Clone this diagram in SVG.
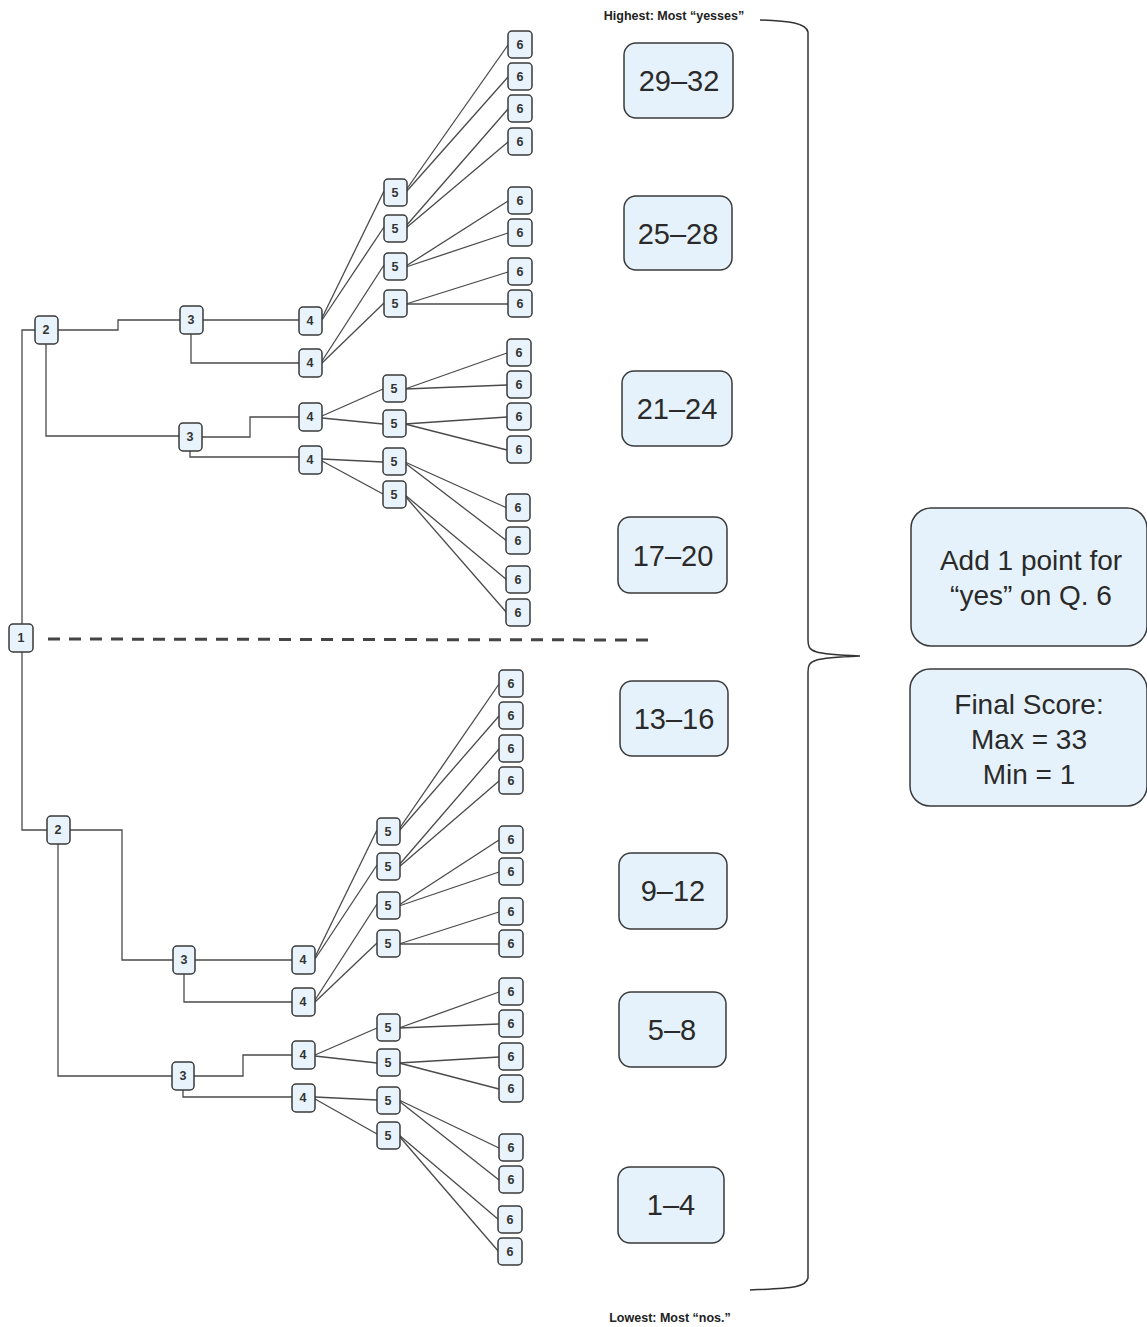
<svg xmlns="http://www.w3.org/2000/svg" width="1147" height="1327" viewBox="0 0 1147 1327">
<style>
.n rect{fill:#e8f3fb;stroke:#3a3a3a;stroke-width:1.5}
.n text{font-family:"Liberation Sans",Arial,sans-serif;font-size:12.5px;fill:#333;text-anchor:middle;font-weight:bold}
.r rect{fill:#e6f2fb;stroke:#3a3a3a;stroke-width:1.5}
.r text{font-family:"Liberation Sans",Arial,sans-serif;font-size:29px;fill:#2a2a2a;text-anchor:middle}
.b rect{fill:#e6f2fb;stroke:#3a3a3a;stroke-width:1.5}
.b text{font-family:"Liberation Sans",Arial,sans-serif;font-size:28px;fill:#2a2a2a;text-anchor:middle}
.c path,.c line{fill:none;stroke:#4a4a4a;stroke-width:1.3}
.lbl{font-family:"Liberation Sans",Arial,sans-serif;font-size:12.5px;font-weight:bold;fill:#222;text-anchor:middle}
</style>
<rect width="1147" height="1327" fill="#fff"/>
<g id="connectors" class="c">
<path d="M22,624 V330 H35"/>
<path d="M22,652 V830 H47"/>
<path d="M58,330 H118 V320 H180"/>
<path d="M203,320 H299"/>
<path d="M191,334 V363 H299"/>
<path d="M46,344 V436 H179"/>
<path d="M202,437 H250 V417 H299"/>
<path d="M190,451 V457 H299"/>
<line x1="322" y1="318" x2="384" y2="191"/>
<line x1="322" y1="320" x2="384" y2="227"/>
<line x1="322" y1="361" x2="384" y2="265"/>
<line x1="322" y1="363" x2="384" y2="303"/>
<line x1="322" y1="416" x2="383" y2="389"/>
<line x1="322" y1="418" x2="383" y2="424"/>
<line x1="322" y1="459" x2="383" y2="462"/>
<line x1="322" y1="461" x2="383" y2="494"/>
<line x1="406" y1="190" x2="508" y2="45"/>
<line x1="406" y1="192" x2="508" y2="77"/>
<line x1="406" y1="226" x2="508" y2="109"/>
<line x1="406" y1="228" x2="508" y2="142"/>
<line x1="406" y1="266" x2="508" y2="201"/>
<line x1="406" y1="267" x2="508" y2="233"/>
<line x1="406" y1="304" x2="508" y2="272"/>
<line x1="406" y1="304" x2="508" y2="304"/>
<line x1="405" y1="389" x2="507" y2="353"/>
<line x1="405" y1="389" x2="507" y2="385"/>
<line x1="405" y1="424" x2="507" y2="417"/>
<line x1="405" y1="424" x2="507" y2="450"/>
<line x1="405" y1="462" x2="507" y2="508"/>
<line x1="405" y1="463" x2="507" y2="541"/>
<line x1="405" y1="495" x2="507" y2="580"/>
<line x1="405" y1="496" x2="507" y2="613"/>
<path d="M70,830 H122 V960 H173"/>
<path d="M195,960 H292"/>
<path d="M184,974 V1002 H292"/>
<path d="M58,844 V1076 H173"/>
<path d="M194,1076 H243 V1055 H292"/>
<path d="M183,1090 V1097 H292"/>
<line x1="315" y1="957" x2="377" y2="830"/>
<line x1="315" y1="959" x2="377" y2="865"/>
<line x1="315" y1="1000" x2="377" y2="904"/>
<line x1="315" y1="1002" x2="377" y2="943"/>
<line x1="315" y1="1055" x2="377" y2="1028"/>
<line x1="315" y1="1056" x2="377" y2="1063"/>
<line x1="315" y1="1097" x2="377" y2="1100"/>
<line x1="315" y1="1099" x2="377" y2="1134"/>
<line x1="399" y1="829" x2="499" y2="684"/>
<line x1="399" y1="831" x2="499" y2="716"/>
<line x1="399" y1="865" x2="499" y2="749"/>
<line x1="399" y1="867" x2="499" y2="781"/>
<line x1="399" y1="905" x2="499" y2="840"/>
<line x1="399" y1="906" x2="499" y2="872"/>
<line x1="399" y1="944" x2="499" y2="912"/>
<line x1="399" y1="944" x2="499" y2="944"/>
<line x1="399" y1="1028" x2="499" y2="992"/>
<line x1="399" y1="1028" x2="499" y2="1024"/>
<line x1="399" y1="1063" x2="499" y2="1057"/>
<line x1="399" y1="1063" x2="499" y2="1089"/>
<line x1="399" y1="1100" x2="499" y2="1148"/>
<line x1="399" y1="1101" x2="499" y2="1180"/>
<line x1="399" y1="1135" x2="499" y2="1220"/>
<line x1="399" y1="1136" x2="499" y2="1252"/>
<line x1="48" y1="639" x2="652" y2="640" style="stroke:#444;stroke-width:3;stroke-dasharray:12 9"/>
<path d="M760,20 C790,21 806,23 808,32 V640 C808,652 812,654 860,656 C812,658 808,660 808,672 V1278 C806,1288 790,1288 750,1290" style="stroke:#333;stroke-width:1.5"/>
</g>
<g id="n1" class="n"><rect x="9" y="624" width="24" height="28" rx="4"/><text x="21" y="642">1</text></g>
<g id="n2a" class="n"><rect x="35" y="316" width="23" height="28" rx="4"/><text x="46" y="334">2</text></g>
<g id="n3a" class="n"><rect x="180" y="306" width="23" height="28" rx="4"/><text x="191" y="324">3</text></g>
<g id="n3b" class="n"><rect x="179" y="423" width="23" height="28" rx="4"/><text x="190" y="441">3</text></g>
<g id="n4a" class="n"><rect x="299" y="307" width="23" height="28" rx="4"/><text x="310" y="325">4</text></g>
<g id="n4b" class="n"><rect x="299" y="349" width="23" height="28" rx="4"/><text x="310" y="367">4</text></g>
<g id="n4c" class="n"><rect x="299" y="403" width="23" height="28" rx="4"/><text x="310" y="421">4</text></g>
<g id="n4d" class="n"><rect x="299" y="446" width="23" height="28" rx="4"/><text x="310" y="464">4</text></g>
<g id="n5a" class="n"><rect x="384" y="179" width="23" height="27" rx="4"/><text x="395" y="197">5</text></g>
<g id="n5b" class="n"><rect x="384" y="215" width="23" height="27" rx="4"/><text x="395" y="233">5</text></g>
<g id="n5c" class="n"><rect x="384" y="253" width="23" height="27" rx="4"/><text x="395" y="271">5</text></g>
<g id="n5d" class="n"><rect x="384" y="290" width="23" height="27" rx="4"/><text x="395" y="308">5</text></g>
<g id="n5e" class="n"><rect x="383" y="375" width="23" height="27" rx="4"/><text x="394" y="393">5</text></g>
<g id="n5f" class="n"><rect x="383" y="410" width="23" height="27" rx="4"/><text x="394" y="428">5</text></g>
<g id="n5g" class="n"><rect x="383" y="448" width="23" height="27" rx="4"/><text x="394" y="466">5</text></g>
<g id="n5h" class="n"><rect x="383" y="481" width="23" height="27" rx="4"/><text x="394" y="499">5</text></g>
<g id="n6a" class="n"><rect x="508" y="31" width="24" height="27" rx="4"/><text x="520" y="49">6</text></g>
<g id="n6b" class="n"><rect x="508" y="63" width="24" height="27" rx="4"/><text x="520" y="81">6</text></g>
<g id="n6c" class="n"><rect x="508" y="95" width="24" height="27" rx="4"/><text x="520" y="113">6</text></g>
<g id="n6d" class="n"><rect x="508" y="128" width="24" height="27" rx="4"/><text x="520" y="146">6</text></g>
<g id="n6e" class="n"><rect x="508" y="187" width="24" height="27" rx="4"/><text x="520" y="205">6</text></g>
<g id="n6f" class="n"><rect x="508" y="219" width="24" height="27" rx="4"/><text x="520" y="237">6</text></g>
<g id="n6g" class="n"><rect x="508" y="258" width="24" height="27" rx="4"/><text x="520" y="276">6</text></g>
<g id="n6h" class="n"><rect x="508" y="290" width="24" height="27" rx="4"/><text x="520" y="308">6</text></g>
<g id="n6i" class="n"><rect x="507" y="339" width="24" height="27" rx="4"/><text x="519" y="357">6</text></g>
<g id="n6j" class="n"><rect x="507" y="371" width="24" height="27" rx="4"/><text x="519" y="389">6</text></g>
<g id="n6k" class="n"><rect x="507" y="403" width="24" height="27" rx="4"/><text x="519" y="421">6</text></g>
<g id="n6l" class="n"><rect x="507" y="436" width="24" height="27" rx="4"/><text x="519" y="454">6</text></g>
<g id="n6m" class="n"><rect x="506" y="494" width="24" height="27" rx="4"/><text x="518" y="512">6</text></g>
<g id="n6n" class="n"><rect x="506" y="527" width="24" height="27" rx="4"/><text x="518" y="545">6</text></g>
<g id="n6o" class="n"><rect x="506" y="566" width="24" height="27" rx="4"/><text x="518" y="584">6</text></g>
<g id="n6p" class="n"><rect x="506" y="599" width="24" height="27" rx="4"/><text x="518" y="617">6</text></g>
<g id="n2b" class="n"><rect x="47" y="816" width="23" height="28" rx="4"/><text x="58" y="834">2</text></g>
<g id="n3c" class="n"><rect x="173" y="946" width="22" height="28" rx="4"/><text x="184" y="964">3</text></g>
<g id="n3d" class="n"><rect x="172" y="1062" width="22" height="28" rx="4"/><text x="183" y="1080">3</text></g>
<g id="n4e" class="n"><rect x="292" y="946" width="23" height="28" rx="4"/><text x="303" y="964">4</text></g>
<g id="n4f" class="n"><rect x="292" y="988" width="23" height="28" rx="4"/><text x="303" y="1006">4</text></g>
<g id="n4g" class="n"><rect x="292" y="1041" width="23" height="28" rx="4"/><text x="303" y="1059">4</text></g>
<g id="n4h" class="n"><rect x="292" y="1084" width="23" height="28" rx="4"/><text x="303" y="1102">4</text></g>
<g id="n5i" class="n"><rect x="377" y="818" width="23" height="27" rx="4"/><text x="388" y="836">5</text></g>
<g id="n5j" class="n"><rect x="377" y="853" width="23" height="27" rx="4"/><text x="388" y="871">5</text></g>
<g id="n5k" class="n"><rect x="377" y="892" width="23" height="27" rx="4"/><text x="388" y="910">5</text></g>
<g id="n5l" class="n"><rect x="377" y="930" width="23" height="27" rx="4"/><text x="388" y="948">5</text></g>
<g id="n5m" class="n"><rect x="377" y="1014" width="23" height="27" rx="4"/><text x="388" y="1032">5</text></g>
<g id="n5n" class="n"><rect x="377" y="1049" width="23" height="27" rx="4"/><text x="388" y="1067">5</text></g>
<g id="n5o" class="n"><rect x="377" y="1087" width="23" height="27" rx="4"/><text x="388" y="1105">5</text></g>
<g id="n5p" class="n"><rect x="377" y="1122" width="23" height="27" rx="4"/><text x="388" y="1140">5</text></g>
<g id="n6q" class="n"><rect x="499" y="670" width="24" height="27" rx="4"/><text x="511" y="688">6</text></g>
<g id="n6r" class="n"><rect x="499" y="702" width="24" height="27" rx="4"/><text x="511" y="720">6</text></g>
<g id="n6s" class="n"><rect x="499" y="735" width="24" height="27" rx="4"/><text x="511" y="753">6</text></g>
<g id="n6t" class="n"><rect x="499" y="767" width="24" height="27" rx="4"/><text x="511" y="785">6</text></g>
<g id="n6u" class="n"><rect x="499" y="826" width="24" height="27" rx="4"/><text x="511" y="844">6</text></g>
<g id="n6v" class="n"><rect x="499" y="858" width="24" height="27" rx="4"/><text x="511" y="876">6</text></g>
<g id="n6w" class="n"><rect x="499" y="898" width="24" height="27" rx="4"/><text x="511" y="916">6</text></g>
<g id="n6x" class="n"><rect x="499" y="930" width="24" height="27" rx="4"/><text x="511" y="948">6</text></g>
<g id="n6y" class="n"><rect x="499" y="978" width="24" height="27" rx="4"/><text x="511" y="996">6</text></g>
<g id="n6z" class="n"><rect x="499" y="1010" width="24" height="27" rx="4"/><text x="511" y="1028">6</text></g>
<g id="n6aa" class="n"><rect x="499" y="1043" width="24" height="27" rx="4"/><text x="511" y="1061">6</text></g>
<g id="n6ab" class="n"><rect x="499" y="1075" width="24" height="27" rx="4"/><text x="511" y="1093">6</text></g>
<g id="n6ac" class="n"><rect x="499" y="1134" width="24" height="27" rx="4"/><text x="511" y="1152">6</text></g>
<g id="n6ad" class="n"><rect x="499" y="1166" width="24" height="27" rx="4"/><text x="511" y="1184">6</text></g>
<g id="n6ae" class="n"><rect x="498" y="1206" width="24" height="27" rx="4"/><text x="510" y="1224">6</text></g>
<g id="n6af" class="n"><rect x="498" y="1238" width="24" height="27" rx="4"/><text x="510" y="1256">6</text></g>
<g id="r1" class="r"><rect x="624" y="43" width="109" height="75" rx="12"/><text x="679" y="91">29–32</text></g>
<g id="r2" class="r"><rect x="624" y="196" width="108" height="74" rx="12"/><text x="678" y="244">25–28</text></g>
<g id="r3" class="r"><rect x="622" y="371" width="110" height="75" rx="12"/><text x="677" y="419">21–24</text></g>
<g id="r4" class="r"><rect x="618" y="517" width="109" height="76" rx="12"/><text x="673" y="566">17–20</text></g>
<g id="r5" class="r"><rect x="620" y="681" width="108" height="75" rx="12"/><text x="674" y="729">13–16</text></g>
<g id="r6" class="r"><rect x="619" y="853" width="108" height="76" rx="12"/><text x="673" y="901">9–12</text></g>
<g id="r7" class="r"><rect x="619" y="992" width="107" height="75" rx="12"/><text x="672" y="1040">5–8</text></g>
<g id="r8" class="r"><rect x="618" y="1167" width="106" height="76" rx="12"/><text x="671" y="1215">1–4</text></g>
<g id="add" class="b"><rect x="911" y="508" width="236" height="138" rx="20"/><text x="1031" y="570">Add 1 point for</text><text x="1031" y="605">“yes” on Q. 6</text></g>
<g id="final" class="b"><rect x="910" y="669" width="237" height="137" rx="20"/><text x="1029" y="714">Final Score:</text><text x="1029" y="749">Max = 33</text><text x="1029" y="784">Min = 1</text></g>
<text class="lbl" x="674" y="20">Highest: Most “yesses”</text>
<text class="lbl" x="670" y="1322">Lowest: Most “nos.”</text>
</svg>
